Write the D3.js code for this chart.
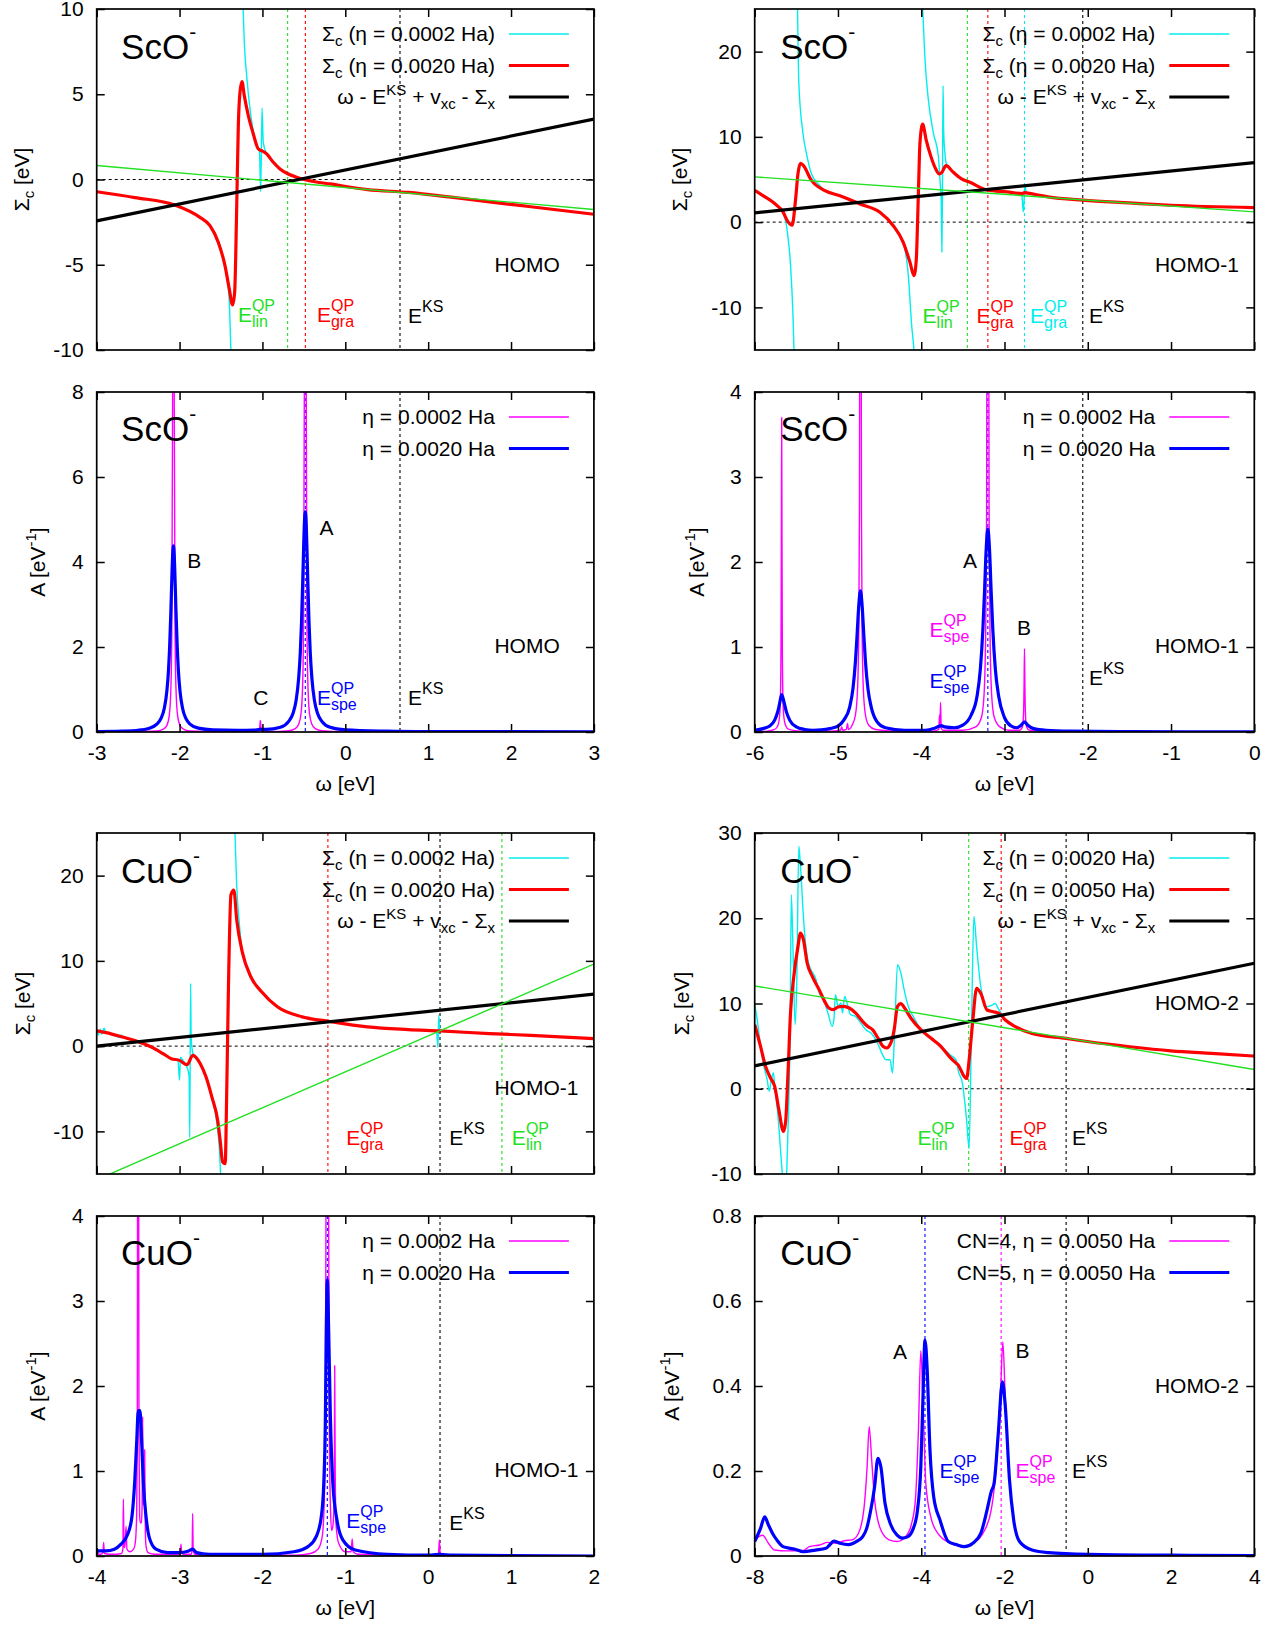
<!DOCTYPE html>
<html>
<head>
<meta charset="utf-8">
<script src="https://cdn.jsdelivr.net/npm/d3@7"></script>
<style>
  body { margin: 0; background: #fff; }
  text { font-family: "Liberation Sans", Arial, sans-serif; white-space: pre; }
</style>
</head>
<body>
<div id="vis"></div>
<script>
// ---------- tick values ----------
const ticksSco1X = [-3, -2, -1, 0, 1, 2, 3];
const ticksSco2X = [-6, -5, -4, -3, -2, -1, 0];
const ticksCu1X = [-4, -3, -2, -1, 0, 1, 2];
const ticksCu2X = [-8, -6, -4, -2, 0, 2, 4];
const ticksSigA = [-10, -5, 0, 5, 10];
const ticksSigB = [-10, 0, 10, 20];
const ticksSigC = [-10, 0, 10, 20, 30];
const ticksA8 = [0, 2, 4, 6, 8];
const ticksA4 = [0, 1, 2, 3, 4];
const ticksA08 = [0, 0.2, 0.4, 0.6, 0.8];

// ---------- ScO- HOMO, self-energy ----------
const scoHomoSigRed = [[-3.00,-0.72],[-2.54,-1.06],[-2.05,-1.51],[-1.754,-2.22],[-1.633,-2.71],[-1.532,-3.69],[-1.452,-5.05],[-1.40,-6.42],[-1.36,-7.36],[-1.335,-6.6],[-1.311,-1.73],[-1.291,3.16],[-1.271,5.11],[-1.247,5.74],[-1.219,4.92],[-1.17,3.74],[-1.11,2.67],[-1.05,1.79],[-1.009,1.69],[-0.949,1.50],[-0.869,1.01],[-0.788,0.62],[-0.688,0.32],[-0.587,0.13],[-0.486,-0.01],[-0.366,-0.13],[-0.185,-0.26],[0.27,-0.59],[0.76,-0.76],[1.25,-1.02],[1.74,-1.31],[2.24,-1.60],[3.00,-2.04]];
const scoHomoSigCyan = [[-3.00,-0.72],[-2.54,-1.06],[-2.05,-1.51],[-1.754,-2.22],[-1.633,-2.75],[-1.512,-4.08],[-1.432,-5.64],[-1.40,-7.2],[-1.38,-10.2],[-1.375,-11],null,[-1.240,11],[-1.219,8.04],[-1.19,6.09],[-1.15,4.13],[-1.09,2.38],[-1.05,1.79],[-1.036,1.69],[-1.021,-0.71],[-1.005,4.19],[-0.99,2.18],[-0.949,1.50],[-0.869,1.01],[-0.788,0.62],[-0.688,0.32],[-0.587,0.13],[-0.486,-0.01],[-0.366,-0.13],[-0.185,-0.26],[0.27,-0.59],[0.76,-0.76],[1.25,-1.02],[1.74,-1.31],[2.24,-1.60],[3.00,-2.04]];
const scoHomoSigBlack = [[-3, -2.43], [3, 3.54]];
const scoHomoSigGreen = [[-3, 0.82], [3, -1.76]];

// ---------- ScO- HOMO-1, self-energy ----------
const scoHomo1SigRed = [[-6.00,3.74],[-5.91,3.16],[-5.76,2.18],[-5.66,1.2],[-5.60,0.03],[-5.55,-0.36],[-5.51,2.57],[-5.48,5.7],[-5.45,6.88],[-5.42,6.7],[-5.32,4.92],[-5.17,3.75],[-4.976,3.1],[-4.736,2.13],[-4.496,1.15],[-4.336,-0.42],[-4.216,-2.37],[-4.135,-4.72],[-4.087,-6.28],[-4.06,-4.5],[-4.035,3.1],[-4.015,9.36],[-3.983,11.5],[-3.943,9.75],[-3.887,7.8],[-3.835,6.43],[-3.783,5.65],[-3.755,5.8],[-3.703,6.62],[-3.615,5.84],[-3.515,5.06],[-3.415,4.67],[-3.20,3.74],[-2.97,3.55],[-2.79,3.35],[-2.76,3.47],[-2.72,3.4],[-2.48,2.96],[-2.06,2.57],[-1.50,2.25],[-1.00,1.98],[0.00,1.71]];
const scoHomo1SigCyan = [[-6.00,3.74],[-5.91,3.16],[-5.76,2.18],[-5.66,1.1],[-5.61,-0.95],[-5.57,-5],[-5.54,-11],[-5.525,-16],null,[-5.487,26],[-5.47,16.3],[-5.42,10.4],[-5.37,7.65],[-5.32,5.7],[-5.22,4.3],[-5.17,3.75],[-4.976,3.1],[-4.736,2.13],[-4.496,1.15],[-4.336,-0.42],[-4.216,-2.37],[-4.155,-6.28],[-4.115,-12.1],[-4.087,-15],[-4.08,-16],null,[-3.99,26],[-3.983,25],[-3.955,19.1],[-3.915,14.4],[-3.855,10.5],[-3.795,7.8],[-3.775,5.0],[-3.76,2.5],[-3.752,-3.5],[-3.745,4],[-3.738,16.0],[-3.73,10.5],[-3.715,8.0],[-3.70,6.9],[-3.66,6.3],[-3.615,5.84],[-3.515,5.06],[-3.415,4.67],[-3.20,3.74],[-2.97,3.55],[-2.83,3.4],[-2.79,3.0],[-2.775,1.2],[-2.765,2.5],[-2.755,4.3],[-2.74,3.6],[-2.72,3.4],[-2.48,2.96],[-2.06,2.57],[-1.50,2.25],[-1.00,1.98],[0.00,1.71]];
const scoHomo1SigBlack = [[-6, 1.08], [0, 6.99]];
const scoHomo1SigGreen = [[-6, 5.31], [0, 1.2]];

// ---------- ScO- HOMO, spectral function ----------
const scoHomoAMag = [[-3.0,0.0],[-2.6,0.004],[-2.274,0.025],[-2.194,0.069],[-2.154,0.15],[-2.124,0.39],[-2.104,1.07],[-2.094,2.3],[-2.084,7.7],[-2.079,18],[-2.074,34],[-2.069,18],[-2.064,7.7],[-2.054,2.3],[-2.044,1.07],[-2.024,0.39],[-1.994,0.15],[-1.954,0.069],[-1.874,0.025],[-1.5,0.01],[-1.1,0.01],[-1.045,0.04],[-1.033,0.1],[-1.025,0.27],[-1.017,0.1],[-1.005,0.04],[-0.9,0.01],[-0.683,0.03],[-0.603,0.08],[-0.563,0.18],[-0.533,0.45],[-0.513,1.25],[-0.503,2.7],[-0.493,9],[-0.488,21],[-0.483,40],[-0.478,21],[-0.473,9],[-0.463,2.7],[-0.453,1.25],[-0.433,0.45],[-0.403,0.18],[-0.363,0.08],[-0.283,0.03],[0.0,0.008],[1.0,0.002],[3.0,0.0]];
const scoHomoABlue = [[-3.0,0.01],[-2.7,0.02],[-2.5,0.04],[-2.374,0.084],[-2.274,0.185],[-2.224,0.32],[-2.184,0.56],[-2.154,0.95],[-2.134,1.44],[-2.119,2.04],[-2.104,2.9],[-2.094,3.57],[-2.084,4.14],[-2.074,4.38],[-2.064,4.14],[-2.054,3.57],[-2.044,2.9],[-2.029,2.04],[-2.014,1.44],[-1.994,0.95],[-1.964,0.56],[-1.924,0.32],[-1.874,0.185],[-1.774,0.09],[-1.6,0.05],[-1.3,0.04],[-1.1,0.045],[-1.025,0.06],[-0.95,0.06],[-0.783,0.11],[-0.683,0.25],[-0.633,0.43],[-0.593,0.75],[-0.563,1.26],[-0.543,1.87],[-0.528,2.59],[-0.513,3.59],[-0.503,4.33],[-0.493,4.94],[-0.483,5.18],[-0.473,4.94],[-0.463,4.33],[-0.453,3.59],[-0.438,2.59],[-0.423,1.87],[-0.403,1.26],[-0.373,0.75],[-0.333,0.43],[-0.283,0.25],[-0.183,0.11],[0.0,0.05],[0.5,0.02],[1.0,0.01],[3.0,0.005]];

// ---------- ScO- HOMO-1, spectral function ----------
const scoHomo1AMag = [[-6.0,0.005],[-5.85,0.01],[-5.76,0.03],[-5.72,0.08],[-5.70,0.2],[-5.69,0.45],[-5.684,1.0],[-5.68,2.2],[-5.676,3.7],[-5.672,2.2],[-5.668,1.0],[-5.662,0.45],[-5.652,0.2],[-5.63,0.08],[-5.59,0.03],[-5.45,0.01],[-5.1,0.01],[-4.97,0.02],[-4.955,0.06],[-4.945,0.02],[-4.90,0.03],[-4.885,0.10],[-4.875,0.03],[-4.83,0.08],[-4.79,0.2],[-4.765,0.5],[-4.75,1.2],[-4.742,2.6],[-4.736,7],[-4.73,20],[-4.724,7],[-4.718,2.6],[-4.71,1.2],[-4.695,0.5],[-4.67,0.2],[-4.63,0.08],[-4.55,0.03],[-4.3,0.01],[-3.85,0.01],[-3.79,0.03],[-3.78,0.2],[-3.775,0.05],[-3.768,0.35],[-3.76,0.05],[-3.74,0.02],[-3.5,0.02],[-3.345,0.06],[-3.275,0.18],[-3.245,0.45],[-3.227,1.1],[-3.215,2.6],[-3.207,7],[-3.20,20],[-3.193,7],[-3.185,2.6],[-3.173,1.1],[-3.155,0.45],[-3.125,0.18],[-3.055,0.06],[-2.95,0.02],[-2.82,0.02],[-2.785,0.06],[-2.772,0.2],[-2.765,0.55],[-2.76,0.98],[-2.755,0.55],[-2.748,0.2],[-2.735,0.06],[-2.7,0.02],[-2.4,0.005],[0.0,0.0]];
const scoHomo1ABlue = [[-6.0,0.02],[-5.9,0.04],[-5.82,0.07],[-5.76,0.14],[-5.72,0.25],[-5.70,0.34],[-5.676,0.44],[-5.65,0.36],[-5.62,0.24],[-5.58,0.14],[-5.5,0.06],[-5.4,0.03],[-5.3,0.02],[-5.2,0.025],[-5.1,0.04],[-5.0,0.07],[-4.93,0.14],[-4.86,0.29],[-4.82,0.51],[-4.79,0.83],[-4.77,1.15],[-4.75,1.49],[-4.73,1.66],[-4.71,1.49],[-4.69,1.15],[-4.67,0.83],[-4.64,0.51],[-4.60,0.29],[-4.53,0.12],[-4.43,0.05],[-4.2,0.02],[-3.95,0.02],[-3.85,0.04],[-3.78,0.07],[-3.76,0.075],[-3.72,0.06],[-3.6,0.05],[-3.5,0.08],[-3.40,0.2],[-3.33,0.42],[-3.29,0.74],[-3.26,1.2],[-3.24,1.65],[-3.22,2.15],[-3.20,2.39],[-3.18,2.15],[-3.16,1.65],[-3.14,1.2],[-3.11,0.74],[-3.07,0.42],[-3.0,0.17],[-2.92,0.07],[-2.86,0.05],[-2.80,0.08],[-2.76,0.12],[-2.72,0.08],[-2.65,0.04],[-2.5,0.02],[-2.2,0.01],[-1.5,0.005],[0.0,0.002]];

// ---------- CuO- HOMO-1, self-energy ----------
const cuoHomo1SigRed = [[-4.00,1.79],[-3.887,1.59],[-3.69,1.08],[-3.49,0.49],[-3.34,-0.1],[-3.20,-0.88],[-3.10,-1.47],[-3.00,-1.67],[-2.91,-2.18],[-2.84,-1.08],[-2.75,-2.06],[-2.68,-3.63],[-2.61,-5.98],[-2.54,-8.73],[-2.51,-11.08],[-2.48,-13.6],[-2.45,-13.8],[-2.43,-4.8],[-2.41,6.96],[-2.38,17.75],[-2.345,18.3],[-2.31,14.8],[-2.24,10.9],[-2.14,8.14],[-2.01,6.37],[-1.82,4.61],[-1.52,3.43],[-1.21,2.92],[-0.73,2.25],[-0.24,1.94],[0.143,1.78],[0.74,1.47],[1.24,1.27],[2.00,0.88]];
const cuoHomo1SigCyan = [[-4.00,1.79],[-3.98,1.3],[-3.96,2.0],[-3.94,1.4],[-3.91,2.1],[-3.887,1.59],[-3.80,1.35],[-3.72,1.0],[-3.70,1.3],[-3.69,1.08],[-3.49,0.49],[-3.34,-0.1],[-3.20,-0.88],[-3.10,-1.47],[-3.02,-1.6],[-3.00,-4.0],[-2.99,-1.3],[-2.95,-1.8],[-2.91,-2.5],[-2.885,-3.5],[-2.877,-10.7],[-2.867,7.35],[-2.86,1.0],[-2.84,-0.8],[-2.80,-1.5],[-2.75,-2.06],[-2.68,-3.63],[-2.61,-6.0],[-2.55,-9.0],[-2.52,-12],[-2.505,-15],[-2.50,-16],null,[-2.335,26],[-2.31,18.7],[-2.28,14.5],[-2.24,10.9],[-2.14,8.14],[-2.01,6.37],[-1.82,4.61],[-1.52,3.43],[-1.21,2.92],[-0.73,2.25],[-0.24,1.94],[0.10,1.8],[0.118,-0.1],[0.128,3.63],[0.14,1.9],[0.16,1.75],[0.74,1.47],[1.24,1.27],[2.00,0.88]];
const cuoHomo1SigBlack = [[-4, 0], [2, 6.1]];
const cuoHomo1SigGreen = [[-4, -15.67], [2, 9.63]];

// ---------- CuO- HOMO-2, self-energy ----------
const cuoHomo2SigRed = [[-8.00,7.52],[-7.86,4.98],[-7.74,2.63],[-7.62,1.26],[-7.52,0.28],[-7.42,-2.45],[-7.31,-5.0],[-7.26,-4.02],[-7.20,1.85],[-7.14,8.9],[-7.06,13.2],[-6.96,16.7],[-6.90,18.27],[-6.83,17.5],[-6.74,14.75],[-6.62,13.2],[-6.45,11.6],[-6.32,10.25],[-6.22,9.47],[-6.11,9.28],[-6.00,9.59],[-5.86,9.67],[-5.73,9.47],[-5.58,8.89],[-5.41,7.91],[-5.29,7.32],[-5.17,6.93],[-5.04,5.95],[-4.92,4.98],[-4.83,4.78],[-4.73,5.37],[-4.65,6.93],[-4.57,9.67],[-4.49,9.98],[-4.40,9.47],[-4.25,8.3],[-4.01,6.93],[-3.77,5.95],[-3.53,4.98],[-3.33,3.80],[-3.21,3.21],[-3.11,2.77],[-2.96,1.40],[-2.91,1.2],[-2.85,3.36],[-2.76,8.06],[-2.67,11.78],[-2.57,11.2],[-2.42,9.24],[-2.27,9.04],[-2.13,8.84],[-1.98,8.06],[-1.74,7.28],[-1.34,6.49],[-0.52,5.9],[0.03,5.51],[1.01,4.93],[1.99,4.45],[2.97,4.14],[4.00,3.83]];
const cuoHomo2SigCyan = [[-8.00,9.86],[-7.94,8.1],[-7.86,4.98],[-7.78,2.63],[-7.70,1.06],[-7.65,-0.3],[-7.60,1.06],[-7.55,1.84],[-7.52,0.28],[-7.44,-3.24],[-7.38,-7.15],[-7.33,-10.5],null,[-7.235,-10.5],[-7.19,-3.24],[-7.15,6.54],[-7.12,22.77],[-7.08,16.3],[-7.03,7.52],[-6.99,12.4],[-6.94,28.44],[-6.90,26.1],[-6.83,20.2],[-6.78,17.1],[-6.70,14.6],[-6.58,13.4],[-6.54,13.0],[-6.45,11.23],[-6.35,10.45],[-6.24,8.89],[-6.14,7.32],[-6.10,8.0],[-6.06,11.04],[-6.00,9.67],[-5.93,10.06],[-5.89,8.89],[-5.84,10.84],[-5.77,9.86],[-5.70,8.69],[-5.58,8.5],[-5.45,7.7],[-5.33,6.93],[-5.2,6.5],[-5.05,5.37],[-4.93,4.0],[-4.85,3.41],[-4.75,3.41],[-4.69,1.85],[-4.64,6.54],[-4.57,14.55],[-4.49,13.6],[-4.41,11.6],[-4.30,9.5],[-4.17,8.3],[-4.01,6.93],[-3.77,5.95],[-3.53,4.98],[-3.30,3.95],[-3.16,3.36],[-3.11,2.1],[-3.01,0.62],[-2.91,-3.7],[-2.85,-7.0],[-2.79,8.06],[-2.735,20.2],[-2.67,16.7],[-2.57,12.0],[-2.42,9.63],[-2.30,9.8],[-2.23,10.0],[-2.13,9.24],[-1.98,8.06],[-1.74,7.28],[-1.34,6.49],[-0.52,5.9],[0.03,5.51],[1.01,4.93],[1.99,4.45],[2.97,4.14],[4.00,3.83]];
const cuoHomo2SigBlack = [[-8, 2.69], [4, 14.72]];
const cuoHomo2SigGreen = [[-8, 12.06], [4, 2.26]];

// ---------- CuO- HOMO-1, spectral function ----------
const cuoHomo1AMag = [[-4.00,0.0],[-3.994,0.02],[-3.988,0.08],[-3.982,0.02],[-3.95,0.02],[-3.925,0.04],[-3.916,0.16],[-3.908,0.03],[-3.80,0.02],[-3.70,0.03],[-3.684,0.08],[-3.678,0.67],[-3.671,0.12],[-3.66,0.1],[-3.646,0.35],[-3.635,0.08],[-3.60,0.05],[-3.555,0.08],[-3.535,0.15],[-3.518,0.47],[-3.51,1.5],[-3.505,6],[-3.50,20],[-3.495,6],[-3.49,1.5],[-3.482,0.47],[-3.473,0.39],[-3.46,0.39],[-3.452,0.6],[-3.445,1.64],[-3.438,0.6],[-3.43,0.8],[-3.421,1.25],[-3.413,0.3],[-3.405,0.12],[-3.38,0.04],[-3.3,0.02],[-3.0,0.02],[-2.99,0.05],[-2.983,0.14],[-2.976,0.05],[-2.96,0.02],[-2.86,0.02],[-2.848,0.08],[-2.842,0.5],[-2.836,0.08],[-2.82,0.02],[-2.4,0.01],[-1.6,0.01],[-1.42,0.03],[-1.33,0.08],[-1.28,0.22],[-1.255,0.6],[-1.24,1.6],[-1.232,4.5],[-1.224,12],[-1.217,30],[-1.21,12],[-1.202,4.5],[-1.194,1.6],[-1.18,0.6],[-1.165,0.3],[-1.15,0.35],[-1.138,0.55],[-1.132,1.0],[-1.128,2.24],[-1.122,1.0],[-1.11,0.35],[-1.08,0.15],[-1.0,0.05],[-0.93,0.05],[-0.917,0.2],[-0.905,0.05],[-0.85,0.02],[0.0,0.01],[0.125,0.03],[0.135,0.19],[0.145,0.03],[0.2,0.01],[2.0,0.0]];
const cuoHomo1ABlue = [[-4.00,0.06],[-3.888,0.06],[-3.787,0.08],[-3.71,0.137],[-3.626,0.255],[-3.574,0.47],[-3.542,0.86],[-3.518,1.33],[-3.498,1.71],[-3.478,1.71],[-3.457,1.33],[-3.437,0.86],[-3.405,0.47],[-3.365,0.216],[-3.285,0.08],[-3.144,0.04],[-3.003,0.04],[-2.89,0.06],[-2.842,0.08],[-2.794,0.04],[-2.64,0.02],[-2.0,0.02],[-1.62,0.05],[-1.45,0.11],[-1.35,0.23],[-1.29,0.46],[-1.26,0.85],[-1.24,1.64],[-1.23,2.62],[-1.217,3.25],[-1.20,2.62],[-1.18,1.64],[-1.15,0.85],[-1.10,0.42],[-1.03,0.19],[-0.88,0.07],[-0.49,0.02],[0.0,0.01],[0.13,0.02],[0.3,0.01],[2.0,0.0]];

// ---------- CuO- HOMO-2, spectral function ----------
const cuoHomo2AMag = [[-8.00,0.038],[-7.81,0.049],[-7.67,0.030],[-7.52,0.014],[-7.23,0.012],[-6.83,0.013],[-6.69,0.022],[-6.44,0.026],[-6.25,0.032],[-6.05,0.030],[-5.85,0.036],[-5.66,0.038],[-5.51,0.053],[-5.38,0.108],[-5.30,0.21],[-5.25,0.304],[-5.19,0.226],[-5.12,0.132],[-4.97,0.061],[-4.77,0.038],[-4.58,0.034],[-4.38,0.045],[-4.24,0.073],[-4.14,0.132],[-4.07,0.288],[-4.01,0.483],[-3.96,0.367],[-3.89,0.171],[-3.77,0.092],[-3.60,0.053],[-3.30,0.030],[-3.01,0.022],[-2.76,0.030],[-2.52,0.053],[-2.32,0.108],[-2.17,0.249],[-2.09,0.398],[-2.04,0.504],[-1.98,0.367],[-1.88,0.179],[-1.78,0.085],[-1.64,0.034],[-1.34,0.014],[-0.95,0.008],[0.03,0.004],[1.99,0.002],[4.00,0.001]];
const cuoHomo2ABlue = [[-8.00,0.034],[-7.86,0.065],[-7.76,0.092],[-7.67,0.073],[-7.57,0.053],[-7.47,0.038],[-7.32,0.022],[-7.03,0.016],[-6.83,0.010],[-6.54,0.014],[-6.29,0.018],[-6.20,0.026],[-6.10,0.035],[-5.95,0.030],[-5.75,0.027],[-5.56,0.034],[-5.41,0.045],[-5.31,0.065],[-5.22,0.104],[-5.12,0.163],[-5.04,0.23],[-4.97,0.21],[-4.87,0.124],[-4.73,0.073],[-4.58,0.049],[-4.46,0.042],[-4.33,0.045],[-4.19,0.065],[-4.09,0.108],[-4.01,0.21],[-3.96,0.367],[-3.91,0.508],[-3.86,0.445],[-3.79,0.249],[-3.70,0.139],[-3.55,0.085],[-3.35,0.034],[-3.16,0.027],[-2.96,0.022],[-2.76,0.030],[-2.57,0.053],[-2.42,0.108],[-2.32,0.151],[-2.25,0.171],[-2.15,0.288],[-2.05,0.41],[-1.98,0.351],[-1.88,0.179],[-1.78,0.085],[-1.64,0.034],[-1.34,0.014],[-0.95,0.008],[0.03,0.004],[1.99,0.002],[4.00,0.001]];

// ---------- legend texts: [text, 0 normal | 1 sub | 2 sup] ----------
const legSig0002 = [["Σ",0],["c",1],[" (η = 0.0002 Ha)",0]];
const legSig0020 = [["Σ",0],["c",1],[" (η = 0.0020 Ha)",0]];
const legSig0050 = [["Σ",0],["c",1],[" (η = 0.0050 Ha)",0]];
const legOmega = [["ω - E",0],["KS",2],[" + v",0],["xc",1],[" - Σ",0],["x",1]];
const legEta0002 = [["η = 0.0002 Ha",0]];
const legEta0020 = [["η = 0.0020 Ha",0]];
const legCN4 = [["CN=4, η = 0.0050 Ha",0]];
const legCN5 = [["CN=5, η = 0.0050 Ha",0]];

// ---------- styles ----------
const cCyan = "#00eeee", cRed = "#ff0000", cGreen = "#22e022", cBlack = "#000000",
      cMag = "#ff00ff", cBlue = "#0000ff";
const thin = 1.4, thick = 3.2;
const colX = [[96.7, 593.9], [754.7, 1254.3]];
const rowY = [[9, 350], [392, 732], [833, 1174], [1216, 1556]];
const FS = 21, FS_S = 16;

const panels = [
  { c: 0, r: 0, xd: [-3, 3], yd: [-10, 10], xt: ticksSco1X, yt: ticksSigA, xlab: false,
    ytitle: "sig", ytx: 29, title: "ScO", zero: true,
    vlines: [[-0.696, cGreen], [-0.482, cRed], [0.66, cBlack]],
    series: [[scoHomoSigCyan, cCyan, thin], [scoHomoSigRed, cRed, thick], [scoHomoSigBlack, cBlack, thick], [scoHomoSigGreen, cGreen, thin]],
    legend: [[legSig0002, cCyan, thin], [legSig0020, cRed, thick], [legOmega, cBlack, thick]],
    labels: [{ t: "HOMO", gx: .800, gy: .229 }, { e: "lin", s: "QP", col: cGreen, gx: .284, gy: .082 },
             { e: "gra", s: "QP", col: cRed, gx: .443, gy: .082 }, { e: "", s: "KS", col: cBlack, gx: .626, gy: .079 }] },
  { c: 1, r: 0, xd: [-6, 0], yd: [-15, 25], xt: ticksSco2X, yt: ticksSigB, xlab: false,
    ytitle: "sig", ytx: 687, title: "ScO", zero: true,
    vlines: [[-3.446, cGreen], [-3.20, cRed], [-2.76, cCyan], [-2.06, cBlack]],
    series: [[scoHomo1SigCyan, cCyan, thin], [scoHomo1SigRed, cRed, thick], [scoHomo1SigBlack, cBlack, thick], [scoHomo1SigGreen, cGreen, thin]],
    legend: [[legSig0002, cCyan, thin], [legSig0020, cRed, thick], [legOmega, cBlack, thick]],
    labels: [{ t: "HOMO-1", gx: .801, gy: .229 }, { e: "lin", s: "QP", col: cGreen, gx: .336, gy: .08 },
             { e: "gra", s: "QP", col: cRed, gx: .444, gy: .08 }, { e: "gra", s: "QP", col: cCyan, gx: .551, gy: .08 },
             { e: "", s: "KS", col: cBlack, gx: .669, gy: .08 }] },
  { c: 0, r: 1, xd: [-3, 3], yd: [0, 8], xt: ticksSco1X, yt: ticksA8, xlab: true,
    ytitle: "A", ytx: 45, title: "ScO", zero: false,
    vlines: [[-0.483, cBlue], [0.66, cBlack]],
    series: [[scoHomoAMag, cMag, thin], [scoHomoABlue, cBlue, thick]],
    legend: [[legEta0002, cMag, thin], [legEta0020, cBlue, thick]],
    labels: [{ t: "HOMO", gx: .800, gy: .232 }, { t: "B", gx: .182, gy: .482 }, { t: "A", gx: .448, gy: .579 },
             { t: "C", gx: .315, gy: .079 }, { e: "spe", s: "QP", col: cBlue, gx: .443, gy: .079 },
             { e: "", s: "KS", col: cBlack, gx: .626, gy: .079 }] },
  { c: 1, r: 1, xd: [-6, 0], yd: [0, 4], xt: ticksSco2X, yt: ticksA4, xlab: true,
    ytitle: "A", ytx: 704, title: "ScO", zero: false,
    vlines: [[-3.20, cBlue], [-2.06, cBlack]],
    series: [[scoHomo1AMag, cMag, thin], [scoHomo1ABlue, cBlue, thick]],
    legend: [[legEta0002, cMag, thin], [legEta0020, cBlue, thick]],
    labels: [{ t: "HOMO-1", gx: .801, gy: .232 }, { t: "A", gx: .417, gy: .482 }, { t: "B", gx: .525, gy: .285 },
             { e: "spe", s: "QP", col: cMag, gx: .350, gy: .279 }, { e: "spe", s: "QP", col: cBlue, gx: .350, gy: .129 },
             { e: "", s: "KS", col: cBlack, gx: .669, gy: .138 }] },
  { c: 0, r: 2, xd: [-4, 2], yd: [-15, 25], xt: ticksCu1X, yt: ticksSigB, xlab: false,
    ytitle: "sig", ytx: 29.5, title: "CuO", zero: true,
    vlines: [[-1.21, cRed], [0.143, cBlack], [0.89, cGreen]],
    series: [[cuoHomo1SigCyan, cCyan, thin], [cuoHomo1SigRed, cRed, thick], [cuoHomo1SigBlack, cBlack, thick], [cuoHomo1SigGreen, cGreen, thin]],
    legend: [[legSig0002, cCyan, thin], [legSig0020, cRed, thick], [legOmega, cBlack, thick]],
    labels: [{ t: "HOMO-1", gx: .800, gy: .232 }, { e: "gra", s: "QP", col: cRed, gx: .502, gy: .085 },
             { e: "", s: "KS", col: cBlack, gx: .709, gy: .085 }, { e: "lin", s: "QP", col: cGreen, gx: .835, gy: .085 }] },
  { c: 1, r: 2, xd: [-8, 4], yd: [-10, 30], xt: ticksCu2X, yt: ticksSigC, xlab: false,
    ytitle: "sig", ytx: 689, title: "CuO", zero: true,
    vlines: [[-2.86, cGreen], [-2.08, cRed], [-0.52, cBlack]],
    series: [[cuoHomo2SigCyan, cCyan, thin], [cuoHomo2SigRed, cRed, thick], [cuoHomo2SigBlack, cBlack, thick], [cuoHomo2SigGreen, cGreen, thin]],
    legend: [[legSig0020, cCyan, thin], [legSig0050, cRed, thick], [legOmega, cBlack, thick]],
    labels: [{ t: "HOMO-2", gx: .801, gy: .481 }, { e: "lin", s: "QP", col: cGreen, gx: .326, gy: .085 },
             { e: "gra", s: "QP", col: cRed, gx: .510, gy: .085 }, { e: "", s: "KS", col: cBlack, gx: .635, gy: .085 }] },
  { c: 0, r: 3, xd: [-4, 2], yd: [0, 4], xt: ticksCu1X, yt: ticksA4, xlab: true,
    ytitle: "A", ytx: 45, title: "CuO", zero: false,
    vlines: [[-1.217, cBlue], [0.143, cBlack]],
    series: [[cuoHomo1AMag, cMag, thin], [cuoHomo1ABlue, cBlue, thick]],
    legend: [[legEta0002, cMag, thin], [legEta0020, cBlue, thick]],
    labels: [{ t: "HOMO-1", gx: .800, gy: .232 }, { e: "spe", s: "QP", col: cBlue, gx: .502, gy: .082 },
             { e: "", s: "KS", col: cBlack, gx: .709, gy: .076 }] },
  { c: 1, r: 3, xd: [-8, 4], yd: [0, 0.8], xt: ticksCu2X, yt: ticksA08, xlab: true,
    ytitle: "A", ytx: 679, title: "CuO", zero: false,
    vlines: [[-3.91, cBlue], [-2.08, cMag], [-0.52, cBlack]],
    series: [[cuoHomo2AMag, cMag, thin], [cuoHomo2ABlue, cBlue, thick]],
    legend: [[legCN4, cMag, thin], [legCN5, cBlue, thick]],
    labels: [{ t: "HOMO-2", gx: .801, gy: .479 }, { t: "A", gx: .277, gy: .579 }, { t: "B", gx: .522, gy: .582 },
             { e: "spe", s: "QP", col: cBlue, gx: .370, gy: .229 }, { e: "spe", s: "QP", col: cMag, gx: .522, gy: .229 },
             { e: "", s: "KS", col: cBlack, gx: .635, gy: .229 }] }
];

function richText(g, x, y, parts, anchor, color, size) {
  const t = g.append("text").attr("x", x).attr("y", y)
    .attr("font-size", size || FS).attr("text-anchor", anchor || "start").attr("fill", color || "#000");
  let cur = 0;
  parts.forEach(([s, m]) => {
    const off = m === 1 ? 5 : m === 2 ? -9 : 0;
    const ts = t.append("tspan").attr("dy", off - cur).text(s);
    if (m) ts.attr("font-size", 15);
    cur = off;
  });
  return t;
}

function eLabel(g, x, y, sub, sup, color) {
  const e = g.append("text").attr("x", x).attr("y", y).attr("font-size", FS).attr("fill", color).text("E");
  const w = e.node().getComputedTextLength();
  g.append("text").attr("x", x + w).attr("y", y - 11).attr("font-size", FS_S).attr("fill", color).text(sup);
  if (sub) g.append("text").attr("x", x + w).attr("y", y + 5).attr("font-size", FS_S).attr("fill", color).text(sub);
}

const svg = d3.select("#vis").append("svg").attr("width", 1278).attr("height", 1626);
const fmt = d => String(d);

panels.forEach((p, i) => {
  const [x0, x1] = colX[p.c], [y0, y1] = rowY[p.r];
  const w = x1 - x0, h = y1 - y0;
  const x = d3.scaleLinear().domain(p.xd).range([x0, x1]);
  const y = d3.scaleLinear().domain(p.yd).range([y1, y0]);
  const g = svg.append("g");

  g.append("clipPath").attr("id", "clip" + i).append("rect")
    .attr("x", x0).attr("y", y0).attr("width", w).attr("height", h);
  const plot = g.append("g").attr("clip-path", `url(#clip${i})`);

  // dashed guides
  if (p.zero) {
    plot.append("line").attr("x1", x0).attr("x2", x1).attr("y1", y(0)).attr("y2", y(0))
      .attr("stroke", "#000").attr("stroke-width", 1).attr("stroke-dasharray", "3,3");
  }
  p.vlines.forEach(([v, col]) => {
    plot.append("line").attr("x1", x(v)).attr("x2", x(v)).attr("y1", y0).attr("y2", y1)
      .attr("stroke", col).attr("stroke-width", 1.1).attr("stroke-dasharray", "3,3");
  });

  // curves
  const line = d3.line().defined(d => d !== null).x(d => x(d[0])).y(d => y(d[1])).curve(d3.curveMonotoneX);
  p.series.forEach(([data, col, sw]) => {
    plot.append("path").datum(data).attr("d", line).attr("fill", "none")
      .attr("stroke", col).attr("stroke-width", sw).attr("stroke-linejoin", "round");
  });

  // axes with mirrored inward ticks
  const styleAxis = sel => {
    sel.select(".domain").remove();
    sel.selectAll(".tick line").attr("stroke", "#000").attr("stroke-width", 1.5);
    sel.selectAll(".tick text").attr("font-size", FS).attr("fill", "#000")
      .attr("font-family", '"Liberation Sans", Arial, sans-serif');
  };
  g.append("g").attr("transform", `translate(0,${y1})`)
    .call(d3.axisBottom(x).tickValues(p.xt).tickSize(-8).tickPadding(13).tickFormat(p.xlab ? fmt : ""))
    .call(styleAxis);
  g.append("g").attr("transform", `translate(0,${y0})`)
    .call(d3.axisTop(x).tickValues(p.xt).tickSize(-8).tickFormat("")).call(styleAxis);
  g.append("g").attr("transform", `translate(${x0},0)`)
    .call(d3.axisLeft(y).tickValues(p.yt).tickSize(-8).tickPadding(13).tickFormat(fmt)).call(styleAxis);
  g.append("g").attr("transform", `translate(${x1},0)`)
    .call(d3.axisRight(y).tickValues(p.yt).tickSize(-8).tickFormat("")).call(styleAxis);

  g.append("rect").attr("x", x0).attr("y", y0).attr("width", w).attr("height", h)
    .attr("fill", "none").attr("stroke", "#000").attr("stroke-width", 1.7);

  // axis titles
  const yt = g.append("g").attr("transform", `translate(${p.ytx},${(y0 + y1) / 2}) rotate(-90)`);
  if (p.ytitle === "sig") richText(yt, 0, 0, [["Σ", 0], ["c", 1], [" [eV]", 0]], "middle");
  else richText(yt, 0, 0, [["A [eV", 0], ["-1", 2], ["]", 0]], "middle");
  if (p.xlab) {
    g.append("text").attr("x", (x0 + x1) / 2).attr("y", y1 + 59).attr("text-anchor", "middle")
      .attr("font-size", FS).text("ω [eV]");
  }

  // molecule title
  const gxp = gx => x0 + gx * w, gyp = gy => y1 - gy * h;
  const tt = g.append("text").attr("x", gxp(p.c === 0 ? 0.049 : 0.051)).attr("y", gyp(p.r % 2 === 0 ? 0.853 : 0.856))
    .attr("font-size", 35);
  tt.append("tspan").text(p.title);
  tt.append("tspan").attr("dy", -20).attr("font-size", 21).text("-");

  // labels
  p.labels.forEach(l => {
    if (l.t) g.append("text").attr("x", gxp(l.gx)).attr("y", gyp(l.gy)).attr("font-size", FS).text(l.t);
    else eLabel(g, gxp(l.gx), gyp(l.gy), l.e, l.s, l.col);
  });

  // legend
  const ly = [25, 56.5, 88];
  p.legend.forEach(([parts, col, sw], k) => {
    const yy = y0 + ly[k];
    richText(g, x1 - 99, yy + 7, parts, "end");
    g.append("line").attr("x1", x1 - 85).attr("x2", x1 - 25).attr("y1", yy).attr("y2", yy)
      .attr("stroke", col).attr("stroke-width", sw);
  });
});
</script>
</body>
</html>
